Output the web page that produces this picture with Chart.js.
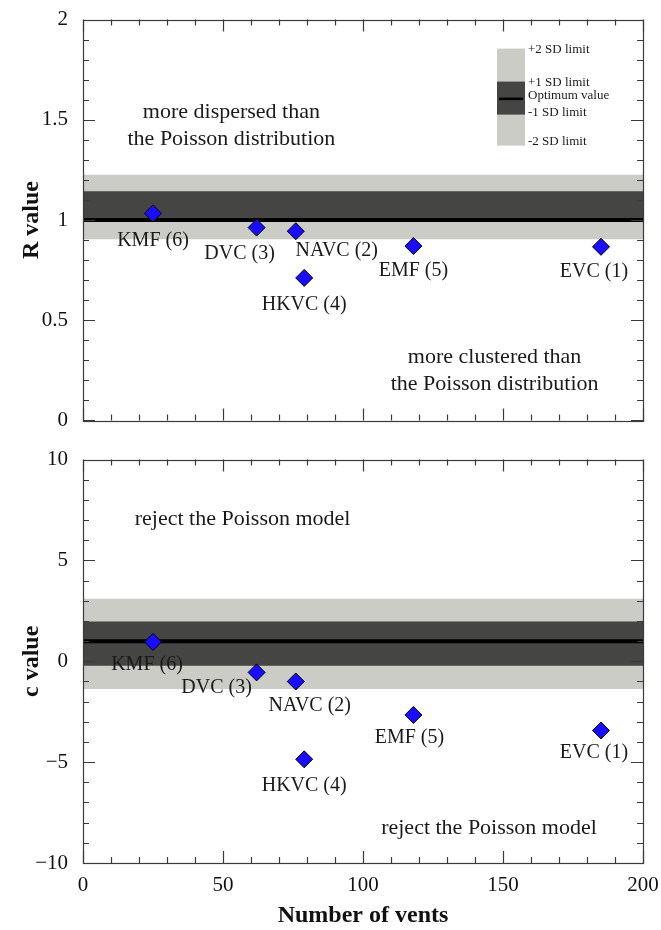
<!DOCTYPE html>
<html>
<head>
<meta charset="utf-8">
<script src="https://cdn.jsdelivr.net/npm/chart.js@4.4.1/dist/chart.umd.min.js"></script>
<style>
  html, body { margin: 0; padding: 0; background: #fff; }
  #wrap { position: relative; width: 661px; height: 930px; overflow: hidden; }
  #topBox { position: absolute; left: 0; top: 0; width: 661px; height: 440px; }
  #botBox { position: absolute; left: 0; top: 440px; width: 667px; height: 490px; }
</style>
</head>
<body>
<div id="wrap">
  <div id="topBox"><canvas id="rChart"></canvas></div>
  <div id="botBox"><canvas id="cChart"></canvas></div>
</div>
<script>
// Datos
const volcanoes = ['KMF (6)', 'DVC (3)', 'NAVC (2)', 'HKVC (4)', 'EMF (5)', 'EVC (1)'];
const ventCounts = [25, 62, 76, 79, 118, 185];
const rValues = [1.033, 0.962, 0.944, 0.711, 0.870, 0.866];
const cValues = [0.96, -0.55, -1.0, -4.86, -2.66, -3.43];
// -2 SD, -1 SD, optimo, +1 SD, +2 SD
const rLimits = [0.904, 0.995, 1.0, 1.144, 1.226];
const cLimits = [-1.37, -0.22, 1.0, 1.97, 3.1];
const xTicks = [0, 50, 100, 150, 200];
const rTicks = [0, 0.5, 1, 1.5, 2];
const cTicks = [-10, -5, 0, 5, 10];
const legendLabels = ['+2 SD limit', '+1 SD limit', 'Optimum value', '-1 SD limit', '-2 SD limit'];

// offsets de las etiquetas (px) respecto a cada rombo
const rLabelOffsets = [[0, 27], [-17, 26], [41, 20], [0, 27], [0, 25], [-7, 25]];
const cLabelOffsets = [[-6, 23], [-40, 15], [14, 24], [0, 26], [-4, 23], [-7, 22]];

const serif = "'Liberation Serif', 'Times New Roman', serif";
Chart.defaults.font.family = serif;
Chart.defaults.color = '#111';

// --- marco con ticks hacia dentro ---
const frameTicks = {
  id: 'frameTicks',
  afterDatasetsDraw(chart, args, opts) {
    const { ctx, chartArea: a, scales: { x, y } } = chart;
    ctx.save();
    ctx.strokeStyle = '#3a3a3a';
    ctx.lineWidth = 1.2;
    ctx.beginPath();
    const nx = Math.round((x.max - x.min) / opts.xMinor);
    for (let i = 0; i <= nx; i++) {
      const v = x.min + i * opts.xMinor;
      const px = Math.round(x.getPixelForValue(v)) + 0.5;
      const len = Math.abs(v / opts.xMajor - Math.round(v / opts.xMajor)) < 1e-6 ? 12 : 6;
      ctx.moveTo(px, a.bottom); ctx.lineTo(px, a.bottom - len);
      ctx.moveTo(px, a.top); ctx.lineTo(px, a.top + len);
    }
    const ny = Math.round((y.max - y.min) / opts.yMinor);
    for (let i = 0; i <= ny; i++) {
      const v = y.min + i * opts.yMinor;
      const py = Math.round(y.getPixelForValue(v)) + 0.5;
      const len = Math.abs(v / opts.yMajor - Math.round(v / opts.yMajor)) < 1e-6 ? 12 : 6;
      ctx.moveTo(a.left, py); ctx.lineTo(a.left + len, py);
      ctx.moveTo(a.right, py); ctx.lineTo(a.right - len, py);
    }
    ctx.stroke();
    ctx.strokeRect(Math.round(a.left) + 0.5, Math.round(a.top) + 0.5,
      Math.round(a.right - a.left), Math.round(a.bottom - a.top));
    ctx.restore();
  }
};

// --- etiquetas de los volcanes y textos ---
const pointNotes = {
  id: 'pointNotes',
  afterDatasetsDraw(chart, args, opts) {
    const { ctx, scales: { x, y } } = chart;
    const meta = chart.getDatasetMeta(0);
    ctx.save();
    ctx.fillStyle = '#1a1a1a';
    ctx.textAlign = 'center';
    ctx.textBaseline = 'middle';
    ctx.font = `20px ${serif}`;
    meta.data.forEach((pt, i) => {
      const off = opts.offsets[i];
      ctx.fillText(volcanoes[i], pt.x + off[0], pt.y + off[1]);
    });
    ctx.font = `22px ${serif}`;
    opts.notes.forEach(n => {
      ctx.fillText(n.text, x.getPixelForValue(n.x), y.getPixelForValue(n.y));
    });
    ctx.restore();
  }
};

// --- leyenda de las bandas ---
const sdLegend = {
  id: 'sdLegend',
  afterDraw(chart) {
    const { ctx, chartArea: a } = chart;
    const left = a.right - 146, top = a.top + 29;
    ctx.save();
    ctx.fillStyle = '#cbccc5';
    ctx.fillRect(left, top, 28, 97);
    ctx.fillStyle = '#454543';
    ctx.fillRect(left, top + 33, 28, 33);
    ctx.fillStyle = '#000';
    ctx.fillRect(left + 2, top + 49, 24, 2.5);
    ctx.fillStyle = '#1a1a1a';
    ctx.font = `13px ${serif}`;
    ctx.textAlign = 'left';
    ctx.textBaseline = 'middle';
    const ys = [1, 34, 47, 64, 93];
    legendLabels.forEach((t, i) => ctx.fillText(t, left + 31, top + ys[i]));
    ctx.restore();
  }
};

function bandSets(limits) {
  const x0 = xTicks[0], x1 = xTicks[xTicks.length - 1];
  const flat = v => [{ x: x0, y: v }, { x: x1, y: v }];
  const none = 'rgba(0,0,0,0)';
  return [
    { type: 'line', data: flat(limits[2]), borderColor: '#000', borderWidth: 4, pointRadius: 0, fill: false, order: 1 },
    { type: 'line', data: flat(limits[3]), borderColor: none, borderWidth: 0, pointRadius: 0,
      backgroundColor: '#454543', fill: { value: limits[1] }, order: 2 },
    { type: 'line', data: flat(limits[4]), borderColor: none, borderWidth: 0, pointRadius: 0,
      backgroundColor: '#cbccc5', fill: { value: limits[0] }, order: 3 }
  ];
}

function makeChart(canvasId, cfg) {
  const yTickVals = cfg.yTicks;
  return new Chart(document.getElementById(canvasId), {
    type: 'scatter',
    data: {
      datasets: [
        {
          data: ventCounts.map((v, i) => ({ x: v, y: cfg.values[i] })),
          pointStyle: 'rectRot', pointRadius: 8.5, pointHoverRadius: 8.5,
          backgroundColor: '#1a0cff', borderColor: '#000', borderWidth: 1, order: 0
        },
        ...bandSets(cfg.limits)
      ]
    },
    options: {
      responsive: true,
      maintainAspectRatio: false,
      animation: false,
      events: [],
      layout: { padding: { top: cfg.padTop, right: cfg.padRight, left: 0, bottom: 0 } },
      scales: {
        x: {
          type: 'linear', min: xTicks[0], max: xTicks[xTicks.length - 1],
          afterBuildTicks: s => { s.ticks = xTicks.map(v => ({ value: v })); },
          afterFit: s => { s.height = cfg.xHeight; },
          grid: { display: false }, border: { display: false },
          ticks: { display: cfg.showX, padding: 2, font: { size: 21 }, color: '#111' },
          title: { display: cfg.showX, text: 'Number of vents', font: { size: 24, weight: 'bold' },
                   padding: { top: 0, bottom: 0 }, color: '#111' }
        },
        y: {
          type: 'linear', min: yTickVals[0], max: yTickVals[yTickVals.length - 1],
          afterBuildTicks: s => { s.ticks = yTickVals.map(v => ({ value: v })); },
          afterFit: s => { s.width = 83; },
          grid: { display: false }, border: { display: false },
          ticks: { padding: 7, font: { size: 21 }, color: '#111',
                   callback: v => String(v).replace('-', '\u2212') },
          title: { display: true, text: cfg.yTitle, font: { size: 24, weight: 'bold' },
                   padding: { top: 17, bottom: 0 }, color: '#111' }
        }
      },
      plugins: {
        legend: { display: false },
        tooltip: { enabled: false },
        frameTicks: { xMinor: 10, xMajor: 50, yMinor: cfg.yMinor, yMajor: cfg.yMajor },
        pointNotes: { offsets: cfg.offsets, notes: cfg.notes }
      }
    },
    plugins: [frameTicks, pointNotes].concat(cfg.extra || [])
  });
}

makeChart('rChart', {
  values: rValues, limits: rLimits, yTicks: rTicks, yTitle: 'R value',
  yMinor: 0.1, yMajor: 0.5, padTop: 17, padRight: 18, xHeight: 19, showX: false,
  offsets: rLabelOffsets, extra: [sdLegend],
  notes: [
    { text: 'more dispersed than', x: 53, y: 1.54 },
    { text: 'the Poisson distribution', x: 53, y: 1.405 },
    { text: 'more clustered than', x: 147, y: 0.317 },
    { text: 'the Poisson distribution', x: 147, y: 0.183 }
  ]
});

makeChart('cChart', {
  values: cValues, limits: cLimits, yTicks: cTicks, yTitle: 'c value',
  yMinor: 1, yMajor: 5, padTop: 18, padRight: 24, xHeight: 67, showX: true,
  offsets: cLabelOffsets,
  notes: [
    { text: 'reject the Poisson model', x: 57, y: 7.04 },
    { text: 'reject the Poisson model', x: 145, y: -8.3 }
  ]
});
</script>
</body>
</html>
